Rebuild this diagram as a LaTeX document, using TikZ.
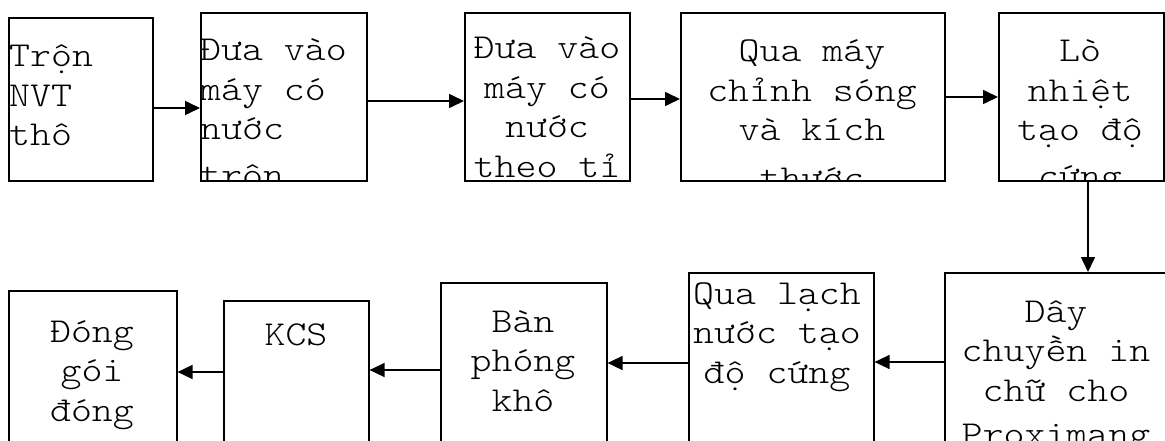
\documentclass[tikz,border=0pt]{standalone}
\usepackage{fontspec}
\newfontfamily\mono[FakeStretch=1.14]{Latin Modern Mono Light}
\usetikzlibrary{arrows.meta}

\tikzset{
  stepbox/.style={draw, line width=1.6pt, inner sep=0pt, anchor=north west},
  steptext/.style={anchor=base, inner sep=0pt, font=\mono\fontsize{35}{39.5}\selectfont},
  arr/.style={line width=1.6pt, -{Triangle[length=15pt,width=14pt]}},
}

\begin{document}
\begin{tikzpicture}[x=1pt, y=-1pt]
			%%%%% START %%%%%
			\clip (0,0) rectangle (1165,441);
			\fill[white] (0,0) rectangle (1165,441);
			
			% top row, left to right
			\node[stepbox, minimum width=144pt, minimum height=163pt] (tron) at (8,17) {};
			\node[stepbox, minimum width=166pt, minimum height=168pt] (mix) at (200,12) {};
			\node[stepbox, minimum width=165pt, minimum height=168pt] (ratio) at (464,12) {};
			\node[stepbox, minimum width=264pt, minimum height=168pt] (wave) at (680,12) {};
			\node[stepbox, minimum width=165pt, minimum height=168pt] (oven) at (998,12) {};
			
			% bottom row, right to left
			\node[stepbox, minimum width=226pt, minimum height=200pt] (print) at (944,272) {};
			\node[stepbox, minimum width=185pt, minimum height=200pt] (channel) at (688,272) {};
			\node[stepbox, minimum width=166pt, minimum height=200pt] (dry) at (440,282) {};
			\node[stepbox, minimum width=145pt, minimum height=200pt] (kcs) at (223,300) {};
			\node[stepbox, minimum width=168pt, minimum height=200pt] (pack) at (8,290) {};
			
			% texts (last lines with stacked accents sit a bit lower)
			\node[steptext, anchor=base west] (trontxt) at (9,67) {\parbox[t]{140pt}{\raggedright Trộn\\NVT\\thô}};
			\begin{scope}
				\clip (mix.south west) rectangle (mix.north east);
				\node[steptext, anchor=base west] (mixtxt) at (200,61) {\parbox[t]{170pt}{\raggedright Đưa vào\\máy có\\nước\\[7pt]trộn}};
			\end{scope}
			\node[steptext] (ratiotxt) at (547,59) {\parbox[t]{170pt}{\centering Đưa vào\\máy có\\nước\\theo tỉ}};
			\begin{scope}
				\clip (wave.south west) rectangle (wave.north east);
				\node[steptext] (wavetxt) at (812,62) {\parbox[t]{260pt}{\centering Qua máy\\chỉnh sóng\\và kích\\[9pt]thước}};
			\end{scope}
			\begin{scope}
				\clip (oven.south west) rectangle (oven.north east);
				\node[steptext] (oventxt) at (1080,62) {\parbox[t]{165pt}{\centering Lò\\nhiệt\\tạo độ\\[7pt]cứng}};
			\end{scope}
			\node[steptext] (printtxt) at (1056,322) {\parbox[t]{220pt}{\centering Dây\\chuyền in\\chữ cho\\[5pt]Proximang}};
			\node[steptext] (channeltxt) at (777,304) {\parbox[t]{185pt}{\centering Qua lạch\\nước tạo\\độ cứng}};
			\node[steptext] (drytxt) at (523,332) {\parbox[t]{165pt}{\centering Bàn\\phóng\\khô}};
			\node[steptext] (kcstxt) at (296,345) {KCS};
			\node[steptext] (packtxt) at (92,342) {\parbox[t]{165pt}{\centering Đóng\\gói\\đóng}};
			
			% arrows
			\draw[arr] (tron.east |- 0,108) -- (mix.west |- 0,108);
			\draw[arr] (mix.east |- 0,101) -- (ratio.west |- 0,101);
			\draw[arr] (ratio.east |- 0,99) -- (wave.west |- 0,99);
			\draw[arr] (wave.east |- 0,97) -- (oven.west |- 0,97);
			\draw[arr] (oven.south -| 1088,0) -- (print.north -| 1088,0);
			\draw[arr] (print.west |- 0,362) -- (channel.east |- 0,362);
			\draw[arr] (channel.west |- 0,363) -- (dry.east |- 0,363);
			\draw[arr] (dry.west |- 0,370) -- (kcs.east |- 0,370);
			\draw[arr] (kcs.west |- 0,372) -- (pack.east |- 0,372);
			%%%%% END %%%%%
\end{tikzpicture}
\end{document}
